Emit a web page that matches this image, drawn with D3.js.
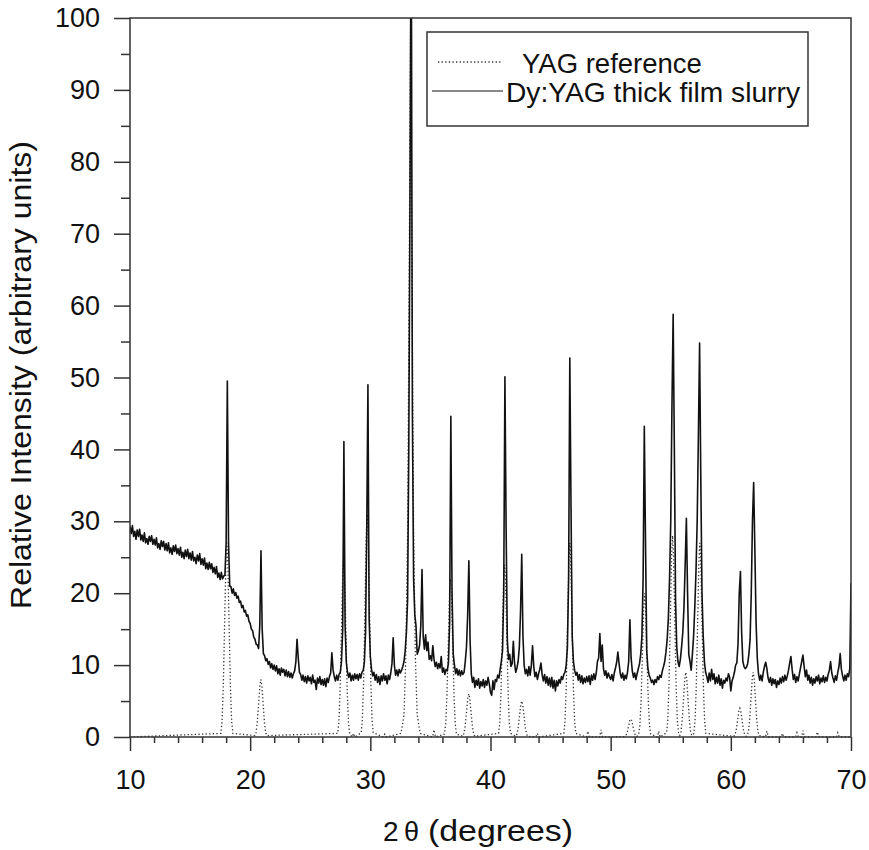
<!DOCTYPE html>
<html>
<head>
<meta charset="utf-8">
<script src="https://cdn.jsdelivr.net/npm/d3@7/dist/d3.min.js"></script>
<style>
  html, body { margin: 0; padding: 0; background: #fff; }
  svg { display: block; }
  text { font-family: "Liberation Sans", Arial, Helvetica, sans-serif; fill: #111; }
</style>
</head>
<body>
<svg id="chart" width="869" height="850"></svg>
<script>
// ---------------- DATA ----------------
// Measured Dy:YAG slurry pattern, sampled every 0.1 degree from 10.0 to 70.0 (2 theta)
const angleStart = 10;
const angleStep = 0.1;
const slurryIntensity = [
  29.3, 28.3, 29.4, 27.9, 28.6, 27.5, 28.8, 27.9, 28.9, 27.4,   // 10
  28.1, 27.2, 28.4, 27.0, 27.6, 26.8, 27.9, 27.2, 28.0, 26.8,   // 11
  27.5, 26.7, 27.7, 26.3, 26.9, 26.1, 27.3, 26.5, 27.2, 26.0,   // 12
  26.9, 25.9, 27.0, 25.6, 26.3, 25.4, 26.6, 25.8, 26.7, 25.5,   // 13
  26.2, 25.3, 26.4, 25.0, 25.7, 24.8, 26.0, 25.1, 26.1, 24.8,   // 14
  25.6, 24.6, 25.8, 24.5, 25.0, 24.1, 25.3, 24.5, 25.5, 24.0,   // 15
  24.8, 23.9, 24.9, 23.4, 24.2, 23.3, 24.3, 23.4, 24.1, 22.9,   // 16
  23.6, 22.7, 23.7, 22.2, 22.8, 21.9, 22.9, 22.0, 22.4, 22.5,   // 17
  27.0, 49.5, 27.0, 21.0, 20.9, 20.0, 20.6, 19.7, 20.1, 19.3,   // 18
  19.6, 18.7, 18.9, 18.0, 18.3, 17.4, 17.6, 16.8, 17.0, 16.1,   // 19
  15.8, 15.0, 14.8, 13.9, 13.6, 12.9, 12.8, 12.3, 15.5, 25.9,   // 20
  15.0, 11.6, 11.3, 10.6, 10.9, 10.1, 10.5, 9.6, 10.2, 9.4,     // 21
  10.0, 9.2, 9.9, 8.8, 9.5, 8.6, 9.6, 9.0, 9.4, 8.5,            // 22
  9.3, 8.4, 9.1, 8.3, 8.9, 8.2, 8.8, 9.2, 10.4, 13.6,           // 23
  11.0, 9.0, 8.7, 7.9, 8.6, 7.7, 8.4, 7.5, 8.5, 7.8,            // 24
  8.3, 7.4, 8.6, 7.6, 7.9, 6.6, 8.2, 7.5, 8.4, 7.3,             // 25
  8.0, 7.2, 8.1, 7.0, 8.2, 7.6, 8.4, 8.9, 11.7, 9.3,            // 26
  8.4, 7.8, 8.6, 7.9, 8.7, 9.0, 10.5, 15.0, 41.1, 15.5,         // 27
  10.4, 9.0, 8.3, 8.9, 7.8, 8.6, 7.9, 8.8, 8.1, 8.7,            // 28
  7.9, 8.8, 8.2, 9.0, 9.2, 10.3, 14.5, 28.5, 49.0, 16.5,        // 29
  11.2, 9.4, 8.5, 9.0, 7.9, 8.7, 7.6, 8.4, 7.3, 8.5,            // 30
  7.8, 8.8, 7.9, 8.5, 7.4, 8.6, 8.0, 8.9, 10.2, 13.8,           // 31
  10.0, 8.6, 9.3, 8.5, 9.4, 8.9, 9.3, 9.8, 10.5, 12.0,          // 32
  14.5, 19.0, 40.0, 75.0, 118.0, 45.0, 22.0, 17.0, 15.5, 11.5,  // 33
  12.0, 12.8, 15.5, 23.3, 14.0, 12.2, 14.2, 12.0, 13.2, 10.8,   // 34
  11.3, 10.6, 12.7, 10.8, 9.8, 10.4, 9.5, 10.2, 9.6, 11.2,      // 35
  9.0, 9.6, 8.7, 9.4, 9.2, 10.3, 16.0, 44.6, 20.0, 11.5,        // 36
  10.0, 8.8, 9.5, 8.6, 9.3, 8.5, 9.2, 8.7, 9.0, 10.5,           // 37
  12.5, 17.0, 24.5, 13.5, 8.8, 7.6, 8.3, 6.9, 7.9, 7.2,         // 38
  8.1, 6.8, 7.7, 7.1, 8.0, 6.9, 7.8, 7.2, 8.3, 7.4,             // 39
  6.2, 5.8, 7.8, 6.6, 8.0, 7.7, 8.6, 8.2, 9.4, 10.5,            // 40
  12.0, 20.0, 50.1, 29.0, 13.5, 10.8, 11.5, 9.8, 10.2, 13.3,    // 41
  10.3, 9.0, 9.6, 10.5, 12.5, 17.5, 25.4, 14.0, 10.0, 8.8,      // 42
  9.4, 8.5, 9.8, 8.6, 10.0, 12.7, 9.8, 8.4, 9.0, 8.0,           // 43
  8.8, 9.4, 10.3, 8.6, 7.8, 8.7, 7.5, 8.4, 7.2, 8.2,            // 44
  7.0, 8.3, 6.8, 7.9, 6.4, 7.8, 7.1, 8.0, 7.5, 8.4,             // 45
  8.0, 8.7, 9.0, 10.0, 12.5, 22.0, 52.7, 32.0, 14.0, 10.5,      // 46
  9.3, 8.6, 9.0, 7.9, 8.7, 7.6, 8.5, 7.4, 8.2, 7.6,             // 47
  8.4, 7.7, 8.5, 7.3, 8.6, 7.9, 8.8, 8.0, 8.9, 10.5,            // 48
  11.0, 14.4, 10.5, 12.8, 9.5, 8.6, 9.2, 8.2, 8.9, 8.4,         // 49
  8.0, 8.7, 7.8, 8.9, 9.6, 10.4, 11.8, 10.2, 8.8, 8.2,          // 50
  8.9, 7.9, 8.6, 8.1, 9.0, 10.5, 16.3, 11.0, 9.2, 8.3,          // 51
  8.9, 8.0, 8.8, 9.5, 10.2, 11.5, 14.0, 22.0, 43.2, 27.0,       // 52
  12.0, 9.5, 8.6, 8.2, 7.6, 7.9, 7.3, 8.0, 7.6, 8.4,            // 53
  8.0, 8.6, 8.3, 9.2, 9.8, 10.5, 11.8, 13.5, 16.5, 22.0,        // 54
  30.0, 46.0, 58.8, 40.0, 19.0, 12.5, 10.5, 9.8, 10.8, 12.5,    // 55
  14.5, 18.0, 24.0, 30.4, 20.0, 11.5, 10.5, 9.3, 11.5, 14.0,    // 56
  18.0, 23.0, 30.0, 42.0, 54.8, 36.0, 20.0, 14.0, 10.5, 9.0,    // 57
  8.4, 7.6, 8.9, 7.8, 9.4, 8.0, 8.8, 7.4, 8.3, 7.5,             // 58
  8.6, 7.2, 8.1, 6.8, 7.9, 7.5, 8.2, 7.8, 8.8, 8.3,             // 59
  6.4, 7.8, 8.3, 9.0, 10.0, 10.3, 13.0, 20.0, 23.0, 14.5,       // 60
  10.5, 9.8, 9.5, 9.7, 10.2, 11.5, 13.5, 20.0, 30.0, 35.4,      // 61
  26.0, 16.0, 11.0, 8.8, 7.9, 8.6, 7.8, 9.0, 9.8, 10.4,         // 62
  9.5, 8.2, 7.6, 8.3, 7.2, 8.1, 7.4, 8.0, 6.9, 7.8,             // 63
  7.3, 8.2, 7.5, 8.4, 7.7, 8.6, 7.9, 8.5, 9.3, 10.3,            // 64
  11.2, 9.4, 8.0, 8.7, 7.6, 8.4, 7.8, 8.7, 9.6, 10.5,           // 65
  11.4, 9.8, 8.4, 9.3, 7.9, 8.6, 7.5, 8.3, 7.2, 8.1,            // 66
  7.5, 8.4, 7.8, 8.6, 7.4, 8.2, 7.7, 8.5, 7.6, 8.3,             // 67
  7.8, 8.7, 9.3, 10.5, 8.9, 8.2, 7.6, 8.5, 7.9, 9.0,            // 68
  9.8, 11.6, 9.4, 8.5, 7.8, 8.6, 7.9, 8.8, 8.4, 9.5,            // 69
  21.4                                                          // 70
];

// YAG reference pattern: [2 theta, relative intensity]
const referencePattern = [
  [10, 0],
  [17.56, 0.5], [17.66, 2.2], [17.76, 6.8], [17.88, 16.2], [17.98, 24.3], [18.06, 27], [18.14, 24.3], [18.24, 16.2], [18.36, 6.8], [18.46, 2.2], [18.56, 0.5],
  [20.39, 0.2], [20.49, 0.6], [20.59, 2.0], [20.71, 4.8], [20.81, 7.2], [20.89, 8], [20.97, 7.2], [21.07, 4.8], [21.19, 2.0], [21.29, 0.6], [21.39, 0.2],
  [27.28, 0.5], [27.38, 2.0], [27.48, 6.3], [27.60, 15], [27.70, 22.5], [27.78, 25], [27.86, 22.5], [27.96, 15], [28.08, 6.3], [28.18, 2.0], [28.28, 0.5],
  [28.48, 0], [28.60, 0.5], [28.72, 0],
  [29.24, 0.6], [29.34, 2.5], [29.44, 7.8], [29.56, 18.6], [29.66, 27.9], [29.74, 31], [29.82, 27.9], [29.92, 18.6], [30.04, 7.8], [30.14, 2.5], [30.24, 0.6],
  [31.08, 0], [31.20, 0.4], [31.32, 0],
  [32.55, 0.5], [32.80, 3], [32.95, 11], [33.10, 28], [33.23, 62], [33.35, 100], [33.47, 62], [33.60, 28], [33.75, 11], [33.90, 3], [34.15, 0.5],
  [35.18, 0], [35.30, 1.0], [35.42, 0],
  [36.17, 0.4], [36.27, 1.8], [36.37, 5.5], [36.49, 13.2], [36.59, 19.8], [36.67, 22], [36.75, 19.8], [36.85, 13.2], [36.97, 5.5], [37.07, 1.8], [37.17, 0.4],
  [37.69, 0.1], [37.79, 0.5], [37.89, 1.5], [38.01, 3.6], [38.11, 5.4], [38.19, 6], [38.27, 5.4], [38.37, 3.6], [38.49, 1.5], [38.59, 0.5], [38.69, 0.1],
  [40.67, 0.5], [40.77, 1.9], [40.87, 6], [40.99, 14.4], [41.09, 21.6], [41.17, 24], [41.25, 21.6], [41.35, 14.4], [41.47, 6], [41.57, 1.9], [41.67, 0.5],
  [42.10, 0.1], [42.20, 0.4], [42.30, 1.3], [42.42, 3], [42.52, 4.5], [42.60, 5], [42.68, 4.5], [42.78, 3], [42.90, 1.3], [43.00, 0.4], [43.10, 0.1],
  [43.78, 0], [43.90, 0.5], [44.02, 0],
  [46.10, 0.5], [46.20, 2.2], [46.30, 6.8], [46.42, 16.2], [46.52, 24.3], [46.60, 27], [46.68, 24.3], [46.78, 16.2], [46.90, 6.8], [47.00, 2.2], [47.10, 0.5],
  [47.98, 0], [48.10, 0.8], [48.22, 0],
  [49.08, 0], [49.20, 1.0], [49.32, 0],
  [51.17, 0.05], [51.27, 0.2], [51.37, 0.6], [51.49, 1.5], [51.59, 2.3], [51.67, 2.5], [51.75, 2.3], [51.85, 1.5], [51.97, 0.6], [52.07, 0.2], [52.17, 0.05],
  [52.33, 0.4], [52.43, 1.6], [52.53, 5], [52.65, 12], [52.75, 18], [52.83, 20], [52.91, 18], [53.01, 12], [53.13, 5], [53.23, 1.6], [53.33, 0.4],
  [53.88, 0], [54.00, 0.8], [54.12, 0],
  [54.65, 0.6], [54.75, 2.2], [54.85, 7], [54.97, 16.8], [55.07, 25.2], [55.15, 28], [55.23, 25.2], [55.33, 16.8], [55.45, 7], [55.55, 2.2], [55.65, 0.6],
  [55.75, 0.2], [55.85, 0.7], [55.95, 2.3], [56.07, 5.4], [56.17, 8.1], [56.25, 9], [56.33, 8.1], [56.43, 5.4], [56.55, 2.3], [56.65, 0.7], [56.75, 0.2],
  [56.92, 0.5], [57.02, 2.2], [57.12, 6.8], [57.24, 16.2], [57.34, 24.3], [57.42, 27], [57.50, 24.3], [57.60, 16.2], [57.72, 6.8], [57.82, 2.2], [57.92, 0.5],
  [60.25, 0.1], [60.35, 0.3], [60.45, 1], [60.57, 2.4], [60.67, 3.6], [60.75, 4], [60.83, 3.6], [60.93, 2.4], [61.05, 1], [61.15, 0.3], [61.25, 0.1],
  [61.36, 0.2], [61.46, 0.7], [61.56, 2.3], [61.68, 5.4], [61.78, 8.1], [61.86, 9], [61.94, 8.1], [62.04, 5.4], [62.16, 2.3], [62.26, 0.7], [62.36, 0.2],
  [62.88, 0], [63.00, 0.8], [63.12, 0],
  [64.18, 0], [64.30, 0.5], [64.42, 0],
  [65.38, 0], [65.50, 0.6], [65.62, 0],
  [65.88, 0], [66.00, 0.9], [66.12, 0],
  [67.08, 0], [67.20, 0.7], [67.32, 0],
  [68.78, 0], [68.90, 0.6], [69.02, 0],
  [70, 0]
];

const xMajorTicks = [10, 20, 30, 40, 50, 60, 70];
const xMinorTicks = [12, 14, 16, 18, 22, 24, 26, 28, 32, 34, 36, 38, 42, 44, 46, 48, 52, 54, 56, 58, 62, 64, 66, 68];
const yMajorTicks = [0, 10, 20, 30, 40, 50, 60, 70, 80, 90, 100];
const yMinorTicks = [5, 15, 25, 35, 45, 55, 65, 75, 85, 95];

const seriesNames = ["YAG reference", "Dy:YAG thick film slurry"];
const xTitleNumber = "2";
const xTitleSymbol = "θ";
const xTitleUnit = "(degrees)";
const yTitle = "Relative Intensity (arbitrary units)";

// ---------------- CHART ----------------
const svg = d3.select("#chart");
const plot = { left: 130, right: 851, top: 18, bottom: 737 };

const x = d3.scaleLinear().domain([10, 70]).range([plot.left, plot.right]);
const y = d3.scaleLinear().domain([0, 100]).range([plot.bottom, plot.top]);

const slurry = slurryIntensity.map((v, i) => [+(angleStart + i * angleStep).toFixed(1), v]);

svg.append("defs").append("clipPath").attr("id", "plotClip")
  .append("rect")
  .attr("x", plot.left).attr("y", plot.top)
  .attr("width", plot.right - plot.left).attr("height", plot.bottom - plot.top + 2);

const line = d3.line().x(d => x(d[0])).y(d => y(d[1]));

const g = svg.append("g").attr("clip-path", "url(#plotClip)");

// Reference (dotted)
g.append("path")
  .datum(referencePattern)
  .attr("d", line)
  .attr("fill", "none")
  .attr("stroke", "#333")
  .attr("stroke-width", 1.3)
  .attr("stroke-dasharray", "1.3,2.3");

// Measured (solid)
g.append("path")
  .datum(slurry)
  .attr("d", line)
  .attr("fill", "none")
  .attr("stroke", "#111")
  .attr("stroke-width", 1.6)
  .attr("stroke-linejoin", "round");

// Frame
svg.append("rect")
  .attr("x", plot.left).attr("y", plot.top)
  .attr("width", plot.right - plot.left).attr("height", plot.bottom - plot.top)
  .attr("fill", "none").attr("stroke", "#333").attr("stroke-width", 1.5);

// X axis
const xAxisMajor = d3.axisBottom(x).tickValues(xMajorTicks).tickSize(14).tickPadding(19).tickFormat(d3.format("d"));
const xAxisMinor = d3.axisBottom(x).tickValues(xMinorTicks).tickSize(6).tickFormat("");
const gxMin = svg.append("g").attr("transform", `translate(0,${plot.bottom})`).call(xAxisMinor);
const gx = svg.append("g").attr("transform", `translate(0,${plot.bottom})`).call(xAxisMajor);

// Y axis
const yAxisMajor = d3.axisLeft(y).tickValues(yMajorTicks).tickSize(16).tickPadding(14).tickFormat(d3.format("d"));
const yAxisMinor = d3.axisLeft(y).tickValues(yMinorTicks).tickSize(9).tickFormat("");
const gyMin = svg.append("g").attr("transform", `translate(${plot.left},0)`).call(yAxisMinor);
const gy = svg.append("g").attr("transform", `translate(${plot.left},0)`).call(yAxisMajor);

[gx, gxMin, gy, gyMin].forEach(a => {
  a.select(".domain").remove();
  a.selectAll(".tick line").attr("stroke", "#333").attr("stroke-width", 1.5);
  a.selectAll(".tick text")
    .attr("font-family", "'Liberation Sans', Arial, sans-serif")
    .attr("font-size", 27)
    .attr("fill", "#111");
});

// Axis titles
const serif = "'Liberation Serif', 'Times New Roman', serif";
svg.append("text")
  .attr("x", 383).attr("y", 841)
  .attr("font-size", 28)
  .attr("font-family", serif)
  .text(xTitleNumber);
svg.append("text")
  .attr("x", 404).attr("y", 841)
  .attr("font-size", 27)
  .attr("font-family", serif)
  .text(xTitleSymbol);
svg.append("text")
  .attr("x", 428).attr("y", 841)
  .attr("font-size", 30)
  .attr("textLength", 145)
  .attr("lengthAdjust", "spacingAndGlyphs")
  .text(xTitleUnit);

svg.append("text")
  .attr("transform", `translate(31,375) rotate(-90)`)
  .attr("text-anchor", "middle")
  .attr("font-size", 29)
  .attr("textLength", 468)
  .attr("lengthAdjust", "spacingAndGlyphs")
  .text(yTitle);

// Legend
const lg = svg.append("g");
lg.append("rect")
  .attr("x", 427).attr("y", 32).attr("width", 381).attr("height", 94)
  .attr("fill", "#fff").attr("stroke", "#333").attr("stroke-width", 1.5);
lg.append("line")
  .attr("x1", 438).attr("x2", 502).attr("y1", 62).attr("y2", 62)
  .attr("stroke", "#333").attr("stroke-width", 1.3).attr("stroke-dasharray", "1.3,2.3");
lg.append("text").attr("x", 522).attr("y", 73).attr("font-size", 27.5).text(seriesNames[0]);
lg.append("line")
  .attr("x1", 432).attr("x2", 503).attr("y1", 91).attr("y2", 91)
  .attr("stroke", "#111").attr("stroke-width", 1.2);
lg.append("text").attr("x", 506).attr("y", 102).attr("font-size", 27.5)
  .attr("textLength", 294).attr("lengthAdjust", "spacingAndGlyphs")
  .text(seriesNames[1]);
</script>
</body>
</html>
